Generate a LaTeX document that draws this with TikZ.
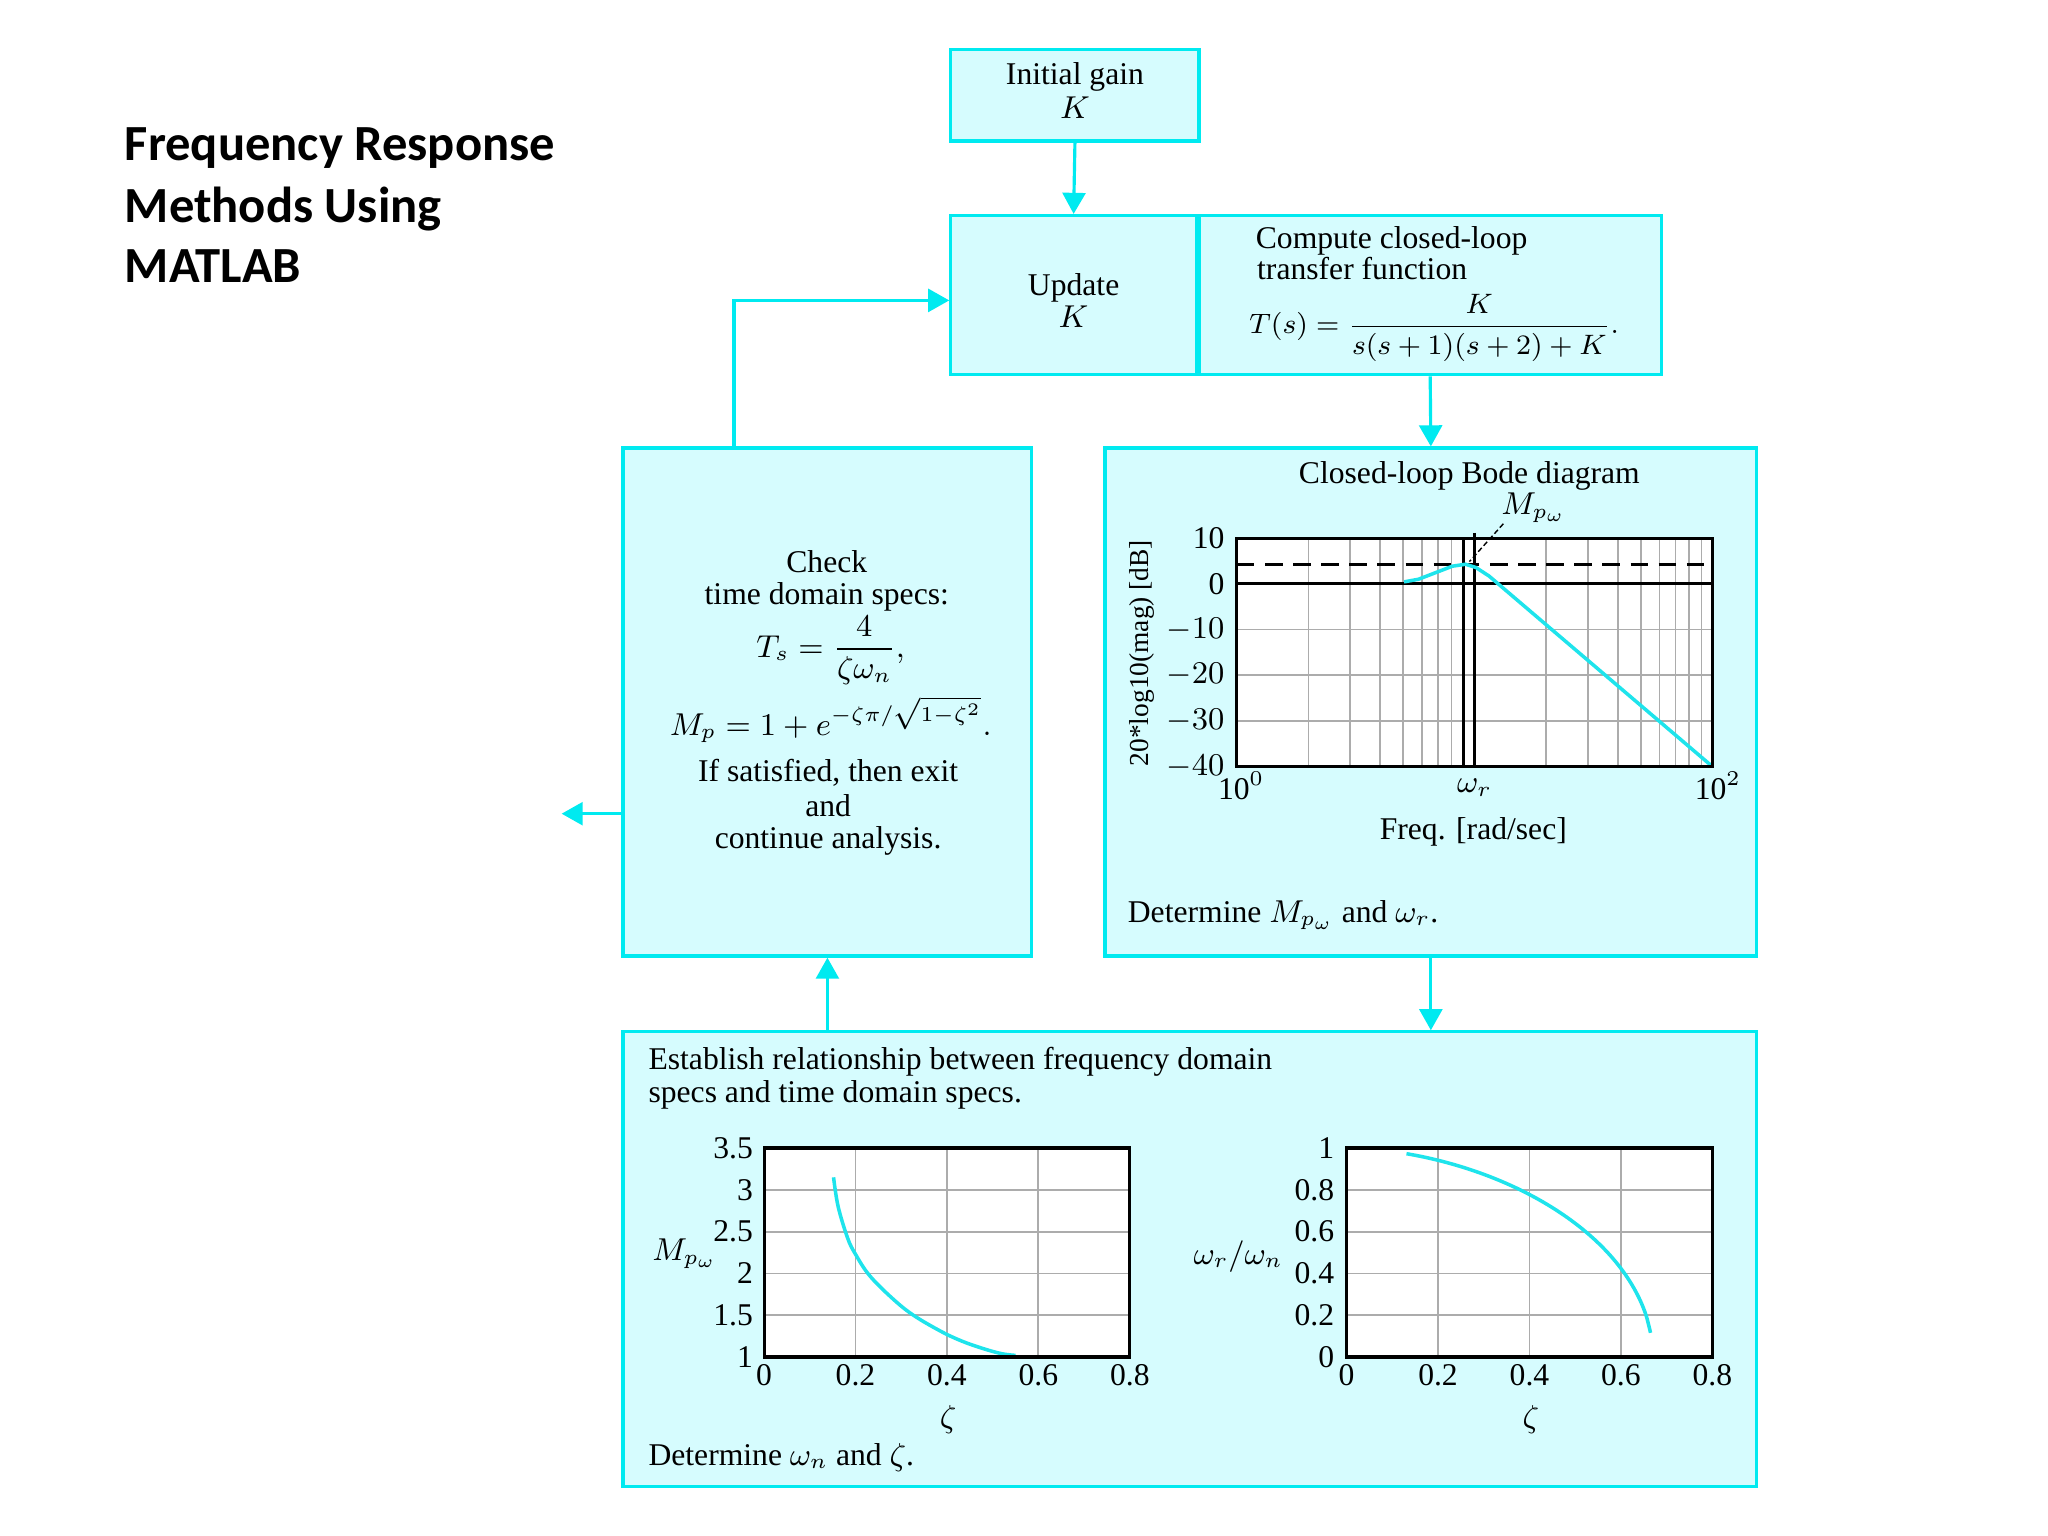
\documentclass[tikz,border=0pt]{standalone}
\usepackage{amsmath}
\usepackage{fontspec}
\setmainfont{Liberation Serif}
\newfontfamily\titlefont{Carlito}
\usetikzlibrary{arrows.meta,fit,calc}
\definecolor{bcyan}{RGB}{0,234,240}
\definecolor{fcyan}{RGB}{214,252,254}
\definecolor{ccyan}{RGB}{30,228,236}
\begin{document}
\begin{tikzpicture}[x=0.01306cm,y=-0.01306cm,
  box/.style={draw=bcyan, fill=fcyan, line width=0.9pt, inner sep=0pt},
  arr/.style={draw=bcyan, line width=0.9pt, -{Triangle[length=6pt,width=6.5pt]}},
  txt/.style={font=\fontsize{9}{10}\selectfont, inner sep=0pt},
  mth/.style={font=\fontsize{8.5}{10}\selectfont, inner sep=0pt},
  ttl/.style={font={\titlefont\bfseries\fontsize{14.4}{17}\selectfont}, inner sep=0pt, anchor=base west},
  gridl/.style={draw=gray!65, line width=0.5pt},
  frm/.style={draw=black, line width=0.9pt},
  curve/.style={draw=ccyan, line width=1pt},
  leader/.style={draw=black, line width=0.4pt, dash pattern=on 1.5pt off 0.8pt},
]
\useasboundingbox (0,0) rectangle (1568,1176);

% title
\node[ttl] (title1) at (95,123) {Frequency Response};
\node[ttl] (title2) at (95,170) {Methods Using};
\node[ttl] (title3) at (95,216) {MATLAB};

% boxes
\node[box, fit={(728,38)(918,108)}] (init) {};
\node[box, fit={(728,165)(916,287)}] (update) {};
\node[box, fit={(918,165)(1272,287)}] (compute) {};
\node[box, fit={(477,343)(790,732)}] (check) {};
\node[box, fit={(846,343)(1345,732)}] (bode) {};
\node[box, fit={(477,790)(1345,1138)}] (est) {};

% connectors
\coordinate (loopx) at (562,343);
\coordinate (loopy) at (0,230);
\coordinate (exit) at (430,623);
\draw[arr] (init.south) -- (update.north);
\draw[arr] (compute.south) -- (bode.north);
\draw[arr] (loopx) |- (update.west |- loopy);
\draw[arr] (check.west |- exit) -- (exit);
\draw[arr] (est.north -| check.south) -- (check.south);
\draw[arr] (bode.south) -- (bode.south |- est.north);

% initial gain / update / compute texts
\node[txt, anchor=base] (ti1) at (823,65) {Initial gain};
\node[txt, anchor=base] (ti2) at (823,91) {$K$};
\node[txt, anchor=base] (tu1) at (822,226) {Update};
\node[txt, anchor=base] (tu2) at (822,251) {$K$};
\node[txt, anchor=base west] (tc1) at (961,190) {Compute closed-loop};
\node[txt, anchor=base west] (tc2) at (962,214) {transfer function};
\node[mth, anchor=west] (tc3) at (956,251) {$T(s) = \dfrac{K}{s(s+1)(s+2)+K}.$};

% check box texts
\node[txt, anchor=base] (tk1) at (633,438) {Check};
\node[txt, anchor=base] (tk2) at (633,463) {time domain specs:};
\node[txt] (tk3) at (636,498) {$T_s = \dfrac{4}{\zeta\omega_n},$};
\node[txt, anchor=base] (tk4) at (636,563) {$M_p = 1 + e^{-\zeta\pi/\sqrt{1-\zeta^2}}.$};
\node[txt, anchor=base] (tk5) at (634,598) {If satisfied, then exit};
\node[txt, anchor=base] (tk6) at (634,625) {and};
\node[txt, anchor=base] (tk7) at (634,650) {continue analysis.};

% Bode diagram
\node[txt, anchor=base] (tb1) at (1125,370) {Closed-loop Bode diagram};
\fill[white] (947,412) rectangle (1311,587);
\foreach \k in {2,3,4,5,6,7,8,20,30,40,50,60,70,80,90}
  \draw[gridl] ({947+182*log10(\k)},412) -- ({947+182*log10(\k)},587);
\foreach \d in {-10,-20,-30}
  \draw[gridl] (947,{447-3.5*\d}) -- (1311,{447-3.5*\d});
\draw[frm] (947,447) -- (1311,447);
\draw[black, line width=0.9pt, dash pattern=on 5pt off 3pt] (947,432) -- (1311,432);
\draw[frm] ({947+182*log10(9)},412) -- ({947+182*log10(9)},587);
\draw[frm] (1129,408) -- (1129,587);
\draw[curve] (1075,445.5) -- (1086,443.5) -- (1099,438.5) -- (1112,433.5) -- (1122,432)
  -- (1130,434.5) -- (1140,441) -- (1310,586);
\draw[frm] (947,412) rectangle (1311,587);
\coordinate (peak) at (1125,430);
\node[txt, anchor=base west] (mpl) at (1149,394) {$M_{p_\omega}$};
\draw[leader] (1151,401) -- (peak);
\foreach \d/\l in {10/10,0/0,-10/$-10$,-20/$-20$,-30/$-30$,-40/$-40$}
  \node[txt, anchor=east] at (938,{447-3.5*\d}) {\l};
\node[txt, anchor=base west] (b100) at (932,612) {10$^{0}$};
\node[txt, anchor=base west] (b102) at (1297,612) {10$^{2}$};
\node[txt, anchor=base] (bwr) at (1129,607) {$\omega_r$};
\node[txt, anchor=base] (bfq) at (1128,643) {Freq. [rad/sec]};
\node[inner sep=0pt, font=\fontsize{7.8}{9}\selectfont, rotate=90] (bylab) at (874,500) {20*log10(mag) [dB]};
\node[txt, anchor=base west] (bdet) at (863,706) {Determine $M_{p_\omega}$ and $\omega_r$.};

% bottom box texts
\node[txt, anchor=base west] (te1) at (496,819) {Establish relationship between frequency domain};
\node[txt, anchor=base west] (te2) at (496,844) {specs and time domain specs.};
\node[txt, anchor=base west] (te3) at (496,1122) {Determine $\omega_n$ and $\zeta$.};

% left plot
\fill[white] (585,879) rectangle (865,1039);
\foreach \z in {0.2,0.4,0.6}
  \draw[gridl] ({585+350*\z},879) -- ({585+350*\z},1039);
\foreach \m in {1.5,2,2.5,3}
  \draw[gridl] (585,{1039-64*(\m-1)}) -- (865,{1039-64*(\m-1)});
\draw[curve] plot[smooth, tension=0.6] coordinates {
  ({585+350*0.152},{1039-64*2.15}) ({585+350*0.162},{1039-64*1.80})
  ({585+350*0.183},{1039-64*1.42}) ({585+350*0.2},{1039-64*1.23})
  ({585+350*0.23},{1039-64*0.98}) ({585+350*0.277},{1039-64*0.72})
  ({585+350*0.324},{1039-64*0.51}) ({585+350*0.386},{1039-64*0.31})
  ({585+350*0.433},{1039-64*0.19}) ({585+350*0.48},{1039-64*0.10})
  ({585+350*0.52},{1039-64*0.04}) ({585+350*0.55},{1039-64*0.02})};
\draw[frm] (585,879) rectangle (865,1039);
\foreach \m in {1,1.5,2,2.5,3,3.5}
  \node[txt, anchor=east] at (577,{1039-64*(\m-1)}) {\m};
\foreach \z in {0,0.2,0.4,0.6,0.8}
  \node[txt, anchor=base] at ({585+350*\z},1061) {\z};
\node[txt] (lz) at (726,1087) {$\zeta$};
\node[txt, anchor=west] (lm) at (499,960) {$M_{p_\omega}$};

% right plot
\fill[white] (1031,879) rectangle (1311,1039);
\foreach \z in {0.2,0.4,0.6}
  \draw[gridl] ({1031+350*\z},879) -- ({1031+350*\z},1039);
\foreach \r in {0.2,0.4,0.6,0.8}
  \draw[gridl] (1031,{1039-160*\r}) -- (1311,{1039-160*\r});
\draw[curve] plot[domain=0.131:0.665, samples=60, smooth]
  ({1031+350*\x},{1039-160*sqrt(1-pow(\x/0.67,1.8))});
\draw[frm] (1031,879) rectangle (1311,1039);
\foreach \r in {0,0.2,0.4,0.6,0.8,1}
  \node[txt, anchor=east] at (1022,{1039-160*\r}) {\r};
\foreach \z in {0,0.2,0.4,0.6,0.8}
  \node[txt, anchor=base] at ({1031+350*\z},1061) {\z};
\node[txt] (rz) at (1172,1087) {$\zeta$};
\node[txt] (rw) at (948,962) {$\omega_r/\omega_n$};
\end{tikzpicture}
\end{document}
